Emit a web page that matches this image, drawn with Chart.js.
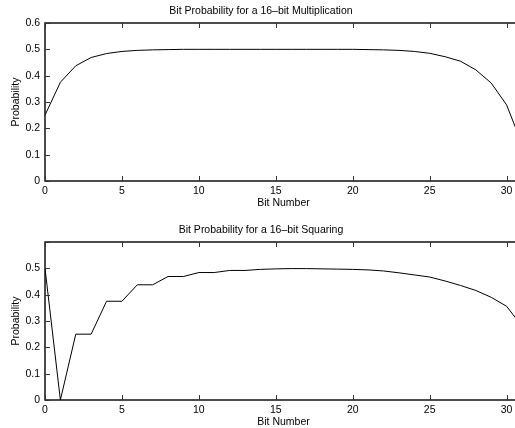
<!DOCTYPE html>
<html>
<head>
<meta charset="utf-8">
<script src="https://cdn.jsdelivr.net/npm/chart.js@4"></script>
<style>
  html, body { margin: 0; padding: 0; background: #fff; overflow: hidden; width: 515px; height: 428px; }
  canvas { position: absolute; left: 0; }
  #multChart { top: 0; }
  #sqrChart { top: 219px; }
</style>
</head>
<body>
<canvas id="multChart" width="530" height="214"></canvas>
<canvas id="sqrChart" width="530" height="214"></canvas>
<script>
// bit positions of the 32-bit result
const bits = [0, 1, 2, 3, 4, 5, 6, 7, 8, 9, 10, 11, 12, 13, 14, 15,
              16, 17, 18, 19, 20, 21, 22, 23, 24, 25, 26, 27, 28, 29, 30, 31];

// probability of a 1 in each bit
const multProb = [0.25, 0.375, 0.4375, 0.469, 0.484, 0.492, 0.496, 0.498,
                  0.499, 0.5, 0.5, 0.5, 0.5, 0.5, 0.5, 0.5,
                  0.5, 0.5, 0.5, 0.5, 0.5, 0.499, 0.498, 0.496,
                  0.492, 0.485, 0.472, 0.455, 0.422, 0.372, 0.289, 0.14];

const sqrProb = [0.5, 0, 0.25, 0.25, 0.375, 0.375, 0.4375, 0.4375,
                 0.469, 0.469, 0.484, 0.484, 0.492, 0.492, 0.496, 0.498,
                 0.499, 0.499, 0.498, 0.497, 0.496, 0.494, 0.49, 0.483,
                 0.475, 0.467, 0.452, 0.435, 0.416, 0.39, 0.356, 0.28];

const yTicks = [0, 0.1, 0.2, 0.3, 0.4, 0.5, 0.6];

const FONT = "'Liberation Sans', Arial, Helvetica, sans-serif";

// matlab style box with inward tick marks
const boxTicks = {
    id: "boxTicks",
    afterDraw(chart) {
        const { ctx, chartArea: a, scales } = chart;
        ctx.save();
        ctx.strokeStyle = "#000";
        ctx.lineWidth = 1.4;
        ctx.strokeRect(a.left, a.top, a.right - a.left, a.bottom - a.top);
        ctx.lineWidth = 1;
        ctx.strokeStyle = "#333";
        ctx.beginPath();
        scales.x.ticks.forEach(t => {
            const px = Math.round(scales.x.getPixelForValue(t.value)) + 0.5;
            ctx.moveTo(px, a.bottom); ctx.lineTo(px, a.bottom - 5);
            ctx.moveTo(px, a.top); ctx.lineTo(px, a.top + 5);
        });
        scales.y.ticks.forEach(t => {
            const py = Math.round(scales.y.getPixelForValue(t.value)) + 0.5;
            ctx.moveTo(a.left, py); ctx.lineTo(a.left + 5, py);
            ctx.moveTo(a.right, py); ctx.lineTo(a.right - 5, py);
        });
        ctx.stroke();
        ctx.restore();
    }
};

function makeChart(id, title, values, showTop) {
    const ctx = document.getElementById(id).getContext("2d");
    return new Chart(ctx, {
        type: "line",
        data: {
            datasets: [{
                data: bits.map((b, i) => ({ x: b, y: values[i] })),
                borderColor: "#000",
                borderWidth: 1,
                pointRadius: 0,
                tension: 0,
                fill: false
            }]
        },
        options: {
            responsive: false,
            animation: false,
            layout: { padding: { left: 0, right: 8, top: 0, bottom: 0 } },
            plugins: {
                legend: { display: false },
                tooltip: { enabled: false },
                title: {
                    display: true,
                    text: title,
                    color: "#000",
                    font: { family: FONT, size: 10.5, weight: "normal" },
                    padding: { top: 4.7, bottom: 5.7 }
                }
            },
            scales: {
                x: {
                    type: "linear",
                    min: 0, max: 31,
                    grid: { display: false, drawTicks: false },
                    border: { display: false },
                    ticks: {
                        stepSize: 5, includeBounds: false, maxRotation: 0, padding: 4,
                        color: "#000", font: { family: FONT, size: 10.5 }
                    },
                    title: {
                        display: true, text: "Bit Number", color: "#000",
                        font: { family: FONT, size: 10.5 },
                        padding: { top: 0, bottom: 4.2 }
                    },
                    afterFit: s => { s.height = 33; }
                },
                y: {
                    min: 0, max: 0.6,
                    afterBuildTicks: s => { s.ticks = yTicks.map(v => ({ value: v })); },
                    grid: { display: false, drawTicks: false },
                    border: { display: false },
                    ticks: {
                        padding: 5, color: "#000", font: { family: FONT, size: 10.5 },
                        callback: v => (v === 0.6 && !showTop) ? "" : String(+v.toFixed(1))
                    },
                    title: {
                        display: true, text: "Probability", color: "#000",
                        font: { family: FONT, size: 10.5 },
                        padding: { top: 9.7, bottom: 0 }
                    },
                    afterFit: s => { s.width = 45; }
                }
            }
        },
        plugins: [boxTicks]
    });
}

makeChart("multChart", "Bit Probability for a 16\u2013bit Multiplication", multProb, true);
makeChart("sqrChart", "Bit Probability for a 16\u2013bit Squaring", sqrProb, false);
</script>
</body>
</html>
